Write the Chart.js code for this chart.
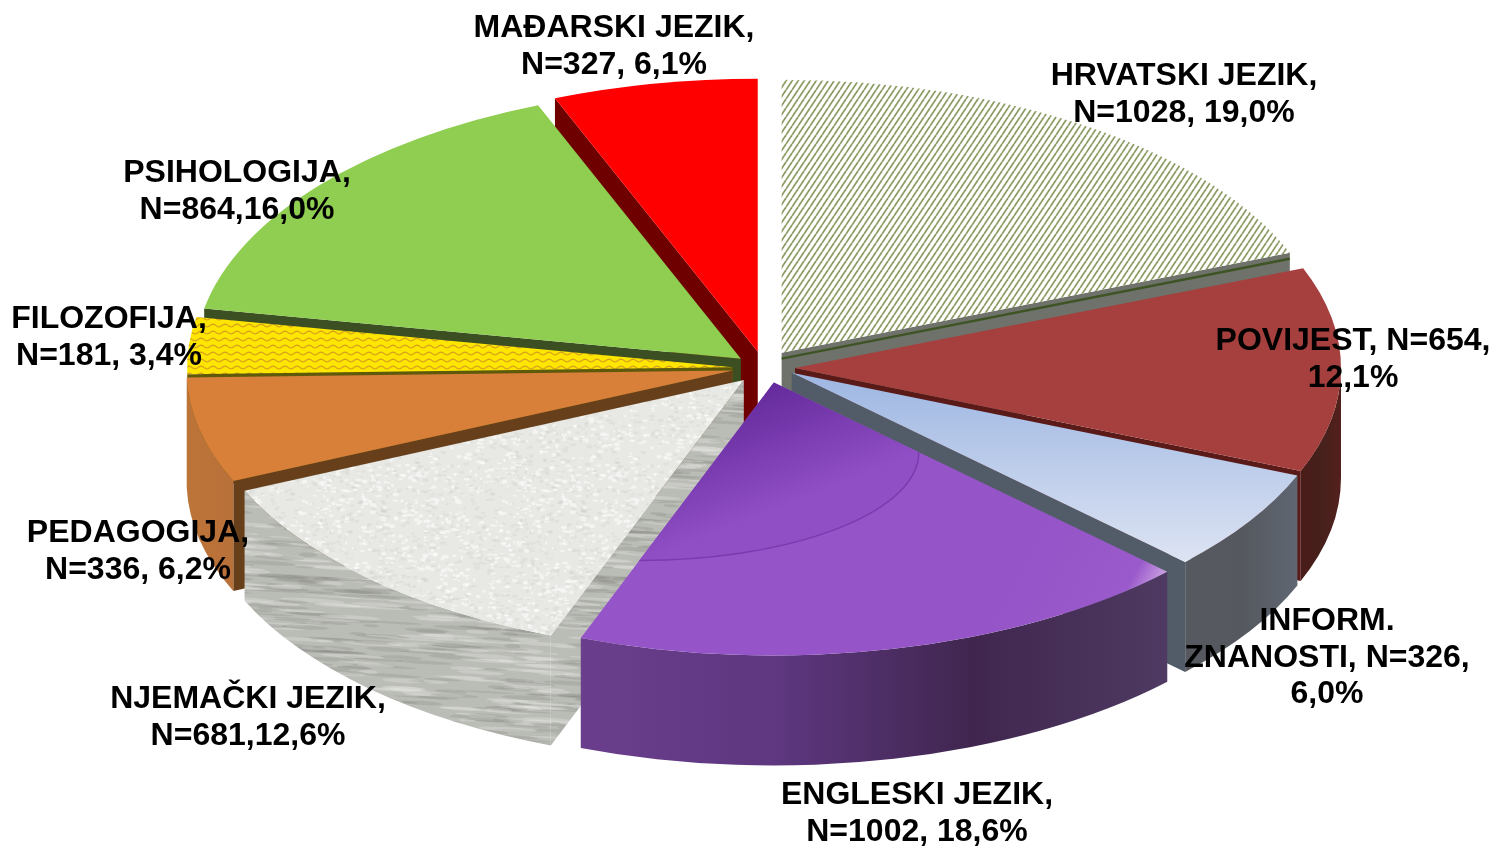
<!DOCTYPE html>
<html><head><meta charset="utf-8">
<style>html,body{margin:0;padding:0;background:#fff}#wrap{position:relative;width:1495px;height:846px}</style>
<script src="https://cdn.jsdelivr.net/npm/chart.js@4"></script>
</head><body><div id="wrap"><canvas id="c" width="1495" height="846"></canvas></div>
<script>
const categories = ['HRVATSKI JEZIK','POVIJEST','INFORM. ZNANOSTI','ENGLESKI JEZIK','NJEMAČKI JEZIK','PEDAGOGIJA','FILOZOFIJA','PSIHOLOGIJA','MAĐARSKI JEZIK'];
const counts = [1028,654,326,1002,681,336,181,864,327];
const labelLines = [
  ['HRVATSKI JEZIK,','N=1028, 19,0%'],
  ['POVIJEST, N=654,','12,1%'],
  ['INFORM.','ZNANOSTI, N=326,','6,0%'],
  ['ENGLESKI JEZIK,','N=1002, 18,6%'],
  ['NJEMAČKI JEZIK,','N=681,12,6%'],
  ['PEDAGOGIJA,','N=336, 6,2%'],
  ['FILOZOFIJA,','N=181, 3,4%'],
  ['PSIHOLOGIJA,','N=864,16,0%'],
  ['MAĐARSKI JEZIK,','N=327, 6,1%']
];
const labelAnchors = [[1184,76],[1353,341],[1327,621],[917,795],[248,699],[138,533],[109,319],[237,173],[614,28]];
const explode = [42,38,39,40,25,22,22,26,33];
const nudge = [[1,2],[0,0],[2,-6],[8,-5],[4,3],[-3,0],[-2,0],[4,-1],[7,0]];
const topColors = ['#cfd8b4','#A5403E','#BFCDE8','#9555C8','#E4E4E1','#D87F3A','#FFE600','#8FCE50','#FF0000'];
const cutColors = ['#6E726A','#5A1A18','#525C68','#5A3A78','#A9ABA5','#67401B','#5F5A0B','#3C4F22','#6E0000'];
const wallStops = [
  ['#55584f','#55584f'],['#4A1C18','#46201C','#53201C'],['#565A60','#55595F','#5F6672'],
  ['#6A3E8C','#5E3780','#40264F','#4E3A62'],['#B6B8B2','#B6B8B2'],['#BD7438','#B8713A'],
  ['#8a7a10','#8a7a10'],['#3C4F22','#3C4F22'],['#6E0000','#6E0000']
];
const paintOrder = [8,0,7,1,6,5,2,4,3];
const squash = 0.5, depth = 110, radiusPx = 546;

function hash(x,y){const s=Math.sin(x*12.9898+y*78.233)*43758.5453;return s-Math.floor(s);}
function tile(w,h,fn){const t=document.createElement('canvas');t.width=w;t.height=h;fn(t.getContext('2d'),w,h);return t;}
const hatchTile = tile(6,9,(g,w,h)=>{g.fillStyle='#fff';g.fillRect(0,0,w,h);g.strokeStyle='#8A9B62';g.lineWidth=1.7;
  for(let i=-1;i<=1;i++){g.beginPath();g.moveTo(i*w,h);g.lineTo(i*w+w,0);g.stroke();}});
const waveTile = tile(12,7,(g,w,h)=>{g.fillStyle='#FFE600';g.fillRect(0,0,w,h);g.strokeStyle='#D6A31C';g.lineWidth=1.2;
  g.beginPath();for(let x=0;x<=w;x++){const y=3.5+1.3*Math.sin(x/w*Math.PI*2);x?g.lineTo(x,y):g.moveTo(x,y);}g.stroke();});
const speckTile = tile(200,200,(g,w,h)=>{g.fillStyle='#E8E8E5';g.fillRect(0,0,w,h);
  for(let i=0;i<1500;i++){const x=hash(i,1)*w,y=hash(i,2)*h,d=hash(i,3)>0.5;
    g.fillStyle=d?'rgba(185,185,180,.16)':'rgba(255,255,255,.5)';
    [-w,0,w].forEach(o=>{g.beginPath();g.ellipse(x+o,y,1+hash(i,4)*2.5,0.7+hash(i,5)*1.3,0,0,7);g.fill();});}});
const streakTile = tile(300,120,(g,w,h)=>{g.fillStyle='#BABCB6';g.fillRect(0,0,w,h);
  for(let i=0;i<260;i++){const x=hash(i,7)*w,y=hash(i,8)*h,d=hash(i,9)>0.5;
    g.fillStyle=d?'rgba(120,122,116,.2)':'rgba(235,236,232,.3)';
    const rx=8+hash(i,10)*26,ry=0.7+hash(i,11)*1.6;
    [-w,0,w].forEach(o=>[-h,0,h].forEach(q=>{g.beginPath();g.ellipse(x+o,y+q,rx,ry,0.06,0,7);g.fill();}));}});

function slicePath(ctx,g,dy){
  ctx.beginPath();ctx.moveTo(g.x,g.y+dy);
  ctx.ellipse(g.x,g.y+dy,g.r,g.r*squash,0,g.a,g.b);ctx.closePath();
}
function topFill(ctx,i,g){
  if(i===0) return ctx.createPattern(hatchTile,'repeat');
  if(i===6) return ctx.createPattern(waveTile,'repeat');
  if(i===4) return ctx.createPattern(speckTile,'repeat');
  if(i===2){const l=ctx.createLinearGradient(0,g.y,0,g.y+190);l.addColorStop(0,'#9DB6E2');l.addColorStop(1,'#DDE4F3');return l;}
  if(i===3){const l=ctx.createLinearGradient(g.x+280,g.y+130,g.x+390,g.y+190);l.addColorStop(0,'#9555C8');l.addColorStop(0.8,'#9A5ACB');l.addColorStop(1,'#C79BE0');return l;}
  return topColors[i];
}
const pie3d = {
  id:'pie3d',
  beforeDatasetDraw(chart){
    const ctx=chart.ctx, arcs=chart.getDatasetMeta(0).data;
    const geoms=arcs.map((arc,i)=>{
      const a=arc.startAngle,b=arc.endAngle,m=(a+b)/2,off=arc.options.offset||0;
      return {a,b,r:arc.outerRadius,x:arc.x+Math.cos(m)*off+nudge[i][0],y:arc.y+Math.sin(m)*off*squash+nudge[i][1]};
    });
    paintOrder.forEach(i=>{
      const g=geoms[i],pt=t=>[g.x+g.r*Math.cos(t),g.y+g.r*squash*Math.sin(t)];
      ctx.save();
      [[g.a,Math.cos(g.a)<0],[g.b,Math.cos(g.b)>0]].forEach(([t,front])=>{
        if(!front) return;
        const p=pt(t);
        ctx.fillStyle=i===4?ctx.createPattern(streakTile,'repeat'):cutColors[i];
        ctx.beginPath();ctx.moveTo(g.x,g.y);ctx.lineTo(p[0],p[1]);ctx.lineTo(p[0],p[1]+depth);ctx.lineTo(g.x,g.y+depth);ctx.closePath();ctx.fill();
        if(i===0){ctx.strokeStyle='#3F5424';ctx.lineWidth=2.5;ctx.beginPath();ctx.moveTo(g.x,g.y+6);ctx.lineTo(p[0],p[1]+6);ctx.stroke();}
      });
      const s=g.a,e=g.b,ranges=[];
      [[0,Math.PI],[2*Math.PI,3*Math.PI],[-2*Math.PI,-Math.PI]].forEach(([lo,hi])=>{
        const u=Math.max(s,lo),v=Math.min(e,hi);if(v>u)ranges.push([u,v]);
      });
      ranges.forEach(([u,v])=>{
        const x0=Math.min(pt(u)[0],pt(v)[0]),x1=Math.max(pt(u)[0],pt(v)[0]);
        const lg=ctx.createLinearGradient(x0,0,x1,0),st=wallStops[i];
        st.forEach((c,k)=>lg.addColorStop(k/(st.length-1),c));
        ctx.fillStyle=i===4?ctx.createPattern(streakTile,'repeat'):lg;
        ctx.beginPath();ctx.ellipse(g.x,g.y,g.r,g.r*squash,0,u,v);
        ctx.ellipse(g.x,g.y+depth,g.r,g.r*squash,0,v,u,true);ctx.closePath();ctx.fill();
      });
      ctx.fillStyle=topFill(ctx,i,g);slicePath(ctx,g,0);ctx.fill();
      if(i===3){
        ctx.save();slicePath(ctx,g,0);ctx.clip();
        const lg=ctx.createLinearGradient(g.x,g.y,g.x+44,g.y+111);
        lg.addColorStop(0,'#642A9C');lg.addColorStop(1,'#914FC5');
        ctx.fillStyle=lg;ctx.beginPath();ctx.ellipse(g.x-135,g.y+70,280,108,0,0,7);ctx.fill();
        ctx.strokeStyle='#7A3BAF';ctx.lineWidth=1.5;ctx.stroke();
        ctx.restore();
      }
      ctx.restore();
    });
    return false;
  },
  afterDraw(chart){
    const ctx=chart.ctx;ctx.save();
    ctx.font='bold 32px "Liberation Sans"';ctx.fillStyle='#000';ctx.textAlign='center';ctx.textBaseline='middle';
    labelLines.forEach((ls,i)=>ls.forEach((t,k)=>ctx.fillText(t,labelAnchors[i][0],labelAnchors[i][1]+k*36.8)));
    ctx.restore();
  }
};
new Chart(document.getElementById('c'),{
  type:'pie',
  data:{labels:categories,datasets:[{data:counts,backgroundColor:topColors,offset:explode,borderWidth:0,radius:radiusPx}]},
  options:{responsive:false,animation:false,events:[],layout:{padding:{left:19,bottom:110}},
    plugins:{legend:{display:false},tooltip:{enabled:false}}},
  plugins:[pie3d]
});
</script></body></html>
